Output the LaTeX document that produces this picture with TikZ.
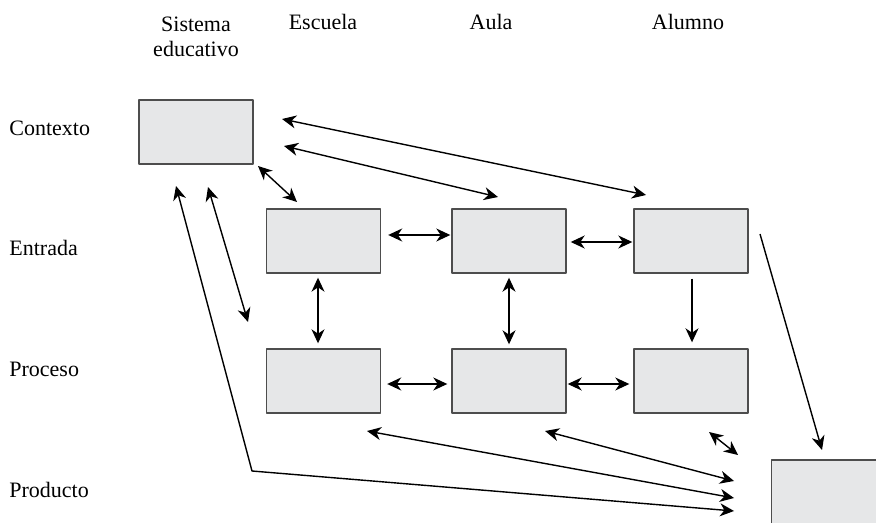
\documentclass[tikz,border=0pt]{standalone}
\usepackage{fontspec}
\setmainfont{Liberation Serif}
\usetikzlibrary{arrows.meta}
\definecolor{cajagris}{HTML}{E6E7E8}
\definecolor{bordegris}{HTML}{4D4D4D}
\begin{document}
\begin{tikzpicture}[x=0.5pt,y=-0.5pt,>={Stealth[length=7pt,width=6.5pt,inset=2.2pt]},
	font=\fontsize{11}{12.5}\selectfont, line join=round,
	caja/.style={draw=bordegris,fill=cajagris,line width=0.7pt,minimum width=57pt,minimum height=32pt,inner sep=0pt},
	fila/.style={anchor=base west,inner sep=0pt},
	flecha/.style={line width=0.7pt}]
	\clip (0,0) rectangle (876,523);
	%\draw[color=gray!50,dashed,step=20] (0,0) grid (876,523);
	% encabezados
	\node[anchor=north,align=center] (hsis) at (196,10) {Sistema\\educativo};
	\node[anchor=base] (hesc) at (323,30) {Escuela};
	\node[anchor=base] (haul) at (491,30) {Aula};
	\node[anchor=base] (halu) at (688,30) {Alumno};
	\node[fila] (rctx) at (9,136) {Contexto};
	\node[fila] (rent) at (9,256) {Entrada};
	\node[fila] (rpro) at (9,376) {Proceso};
	\node[fila] (rprod) at (9,497) {Producto};
	% cajas
	\node[caja] (ctx) at (196,132) {};
	\node[caja] (ent1) at (323.5,241) {};
	\node[caja] (ent2) at (509,241) {};
	\node[caja] (ent3) at (691,241) {};
	\node[caja] (pro1) at (323.5,381) {};
	\node[caja] (pro2) at (509,381) {};
	\node[caja] (pro3) at (691,381) {};
	\node[caja,minimum height=35pt] (prod) at (828.5,495) {};
	% extremos libres
	\coordinate (ctxA) at (282,119); \coordinate (aluA) at (646,195);
	\coordinate (ctxB) at (284,146); \coordinate (aulA) at (498,197);
	\coordinate (ctxC) at (258,166); \coordinate (escA) at (297,202);
	\coordinate (ctxD) at (176,186); \coordinate (codo) at (252,471); \coordinate (prodA) at (734,511);
	\coordinate (ctxE) at (208,187); \coordinate (escB) at (248,322);
	\coordinate (escC) at (367,431); \coordinate (prodB) at (734,498);
	\coordinate (aulC) at (545,431); \coordinate (prodC) at (734,481);
	\coordinate (aluC) at (709,432); \coordinate (prodD) at (738,455);
	\coordinate (aluB) at (760,234); \coordinate (prodE) at (822,450);
	% flechas
	\draw[flecha,<->] (ctxA)--(aluA);
	\draw[flecha,<->] (ctxB)--(aulA);
	\draw[flecha,<->] (ctxC)--(escA);
	\draw[flecha,<->] (ctxD)--(codo)--(prodA);
	\draw[flecha,<->] (ctxE)--(escB);
	\draw[flecha,<->] (escC)--(prodB);
	\draw[flecha,<->] (aulC)--(prodC);
	\draw[flecha,<->] (aluC)--(prodD);
	\draw[flecha,->] (aluB)--(prodE);
	\draw[flecha,<->] ([shift={(7,-6)}]ent1.east)--([shift={(-1,-6)}]ent2.west);
	\draw[flecha,<->] ([shift={(4,1)}]ent2.east)--([shift={(-1,1)}]ent3.west);
	\draw[flecha,<->] ([shift={(6,3)}]pro1.east)--([shift={(-4,3)}]pro2.west);
	\draw[flecha,<->] ([shift={(1,3)}]pro2.east)--([shift={(-4,3)}]pro3.west);
	\draw[flecha,<->] ([shift={(-5.5,4)}]ent1.south)--([shift={(-5.5,-5)}]pro1.north);
	\draw[flecha,<->] ([shift={(0,4)}]ent2.south)--([shift={(0,-4)}]pro2.north);
	\draw[flecha,->] ([shift={(1,5)}]ent3.south)--([shift={(1,-6)}]pro3.north);
\end{tikzpicture}
\end{document}
